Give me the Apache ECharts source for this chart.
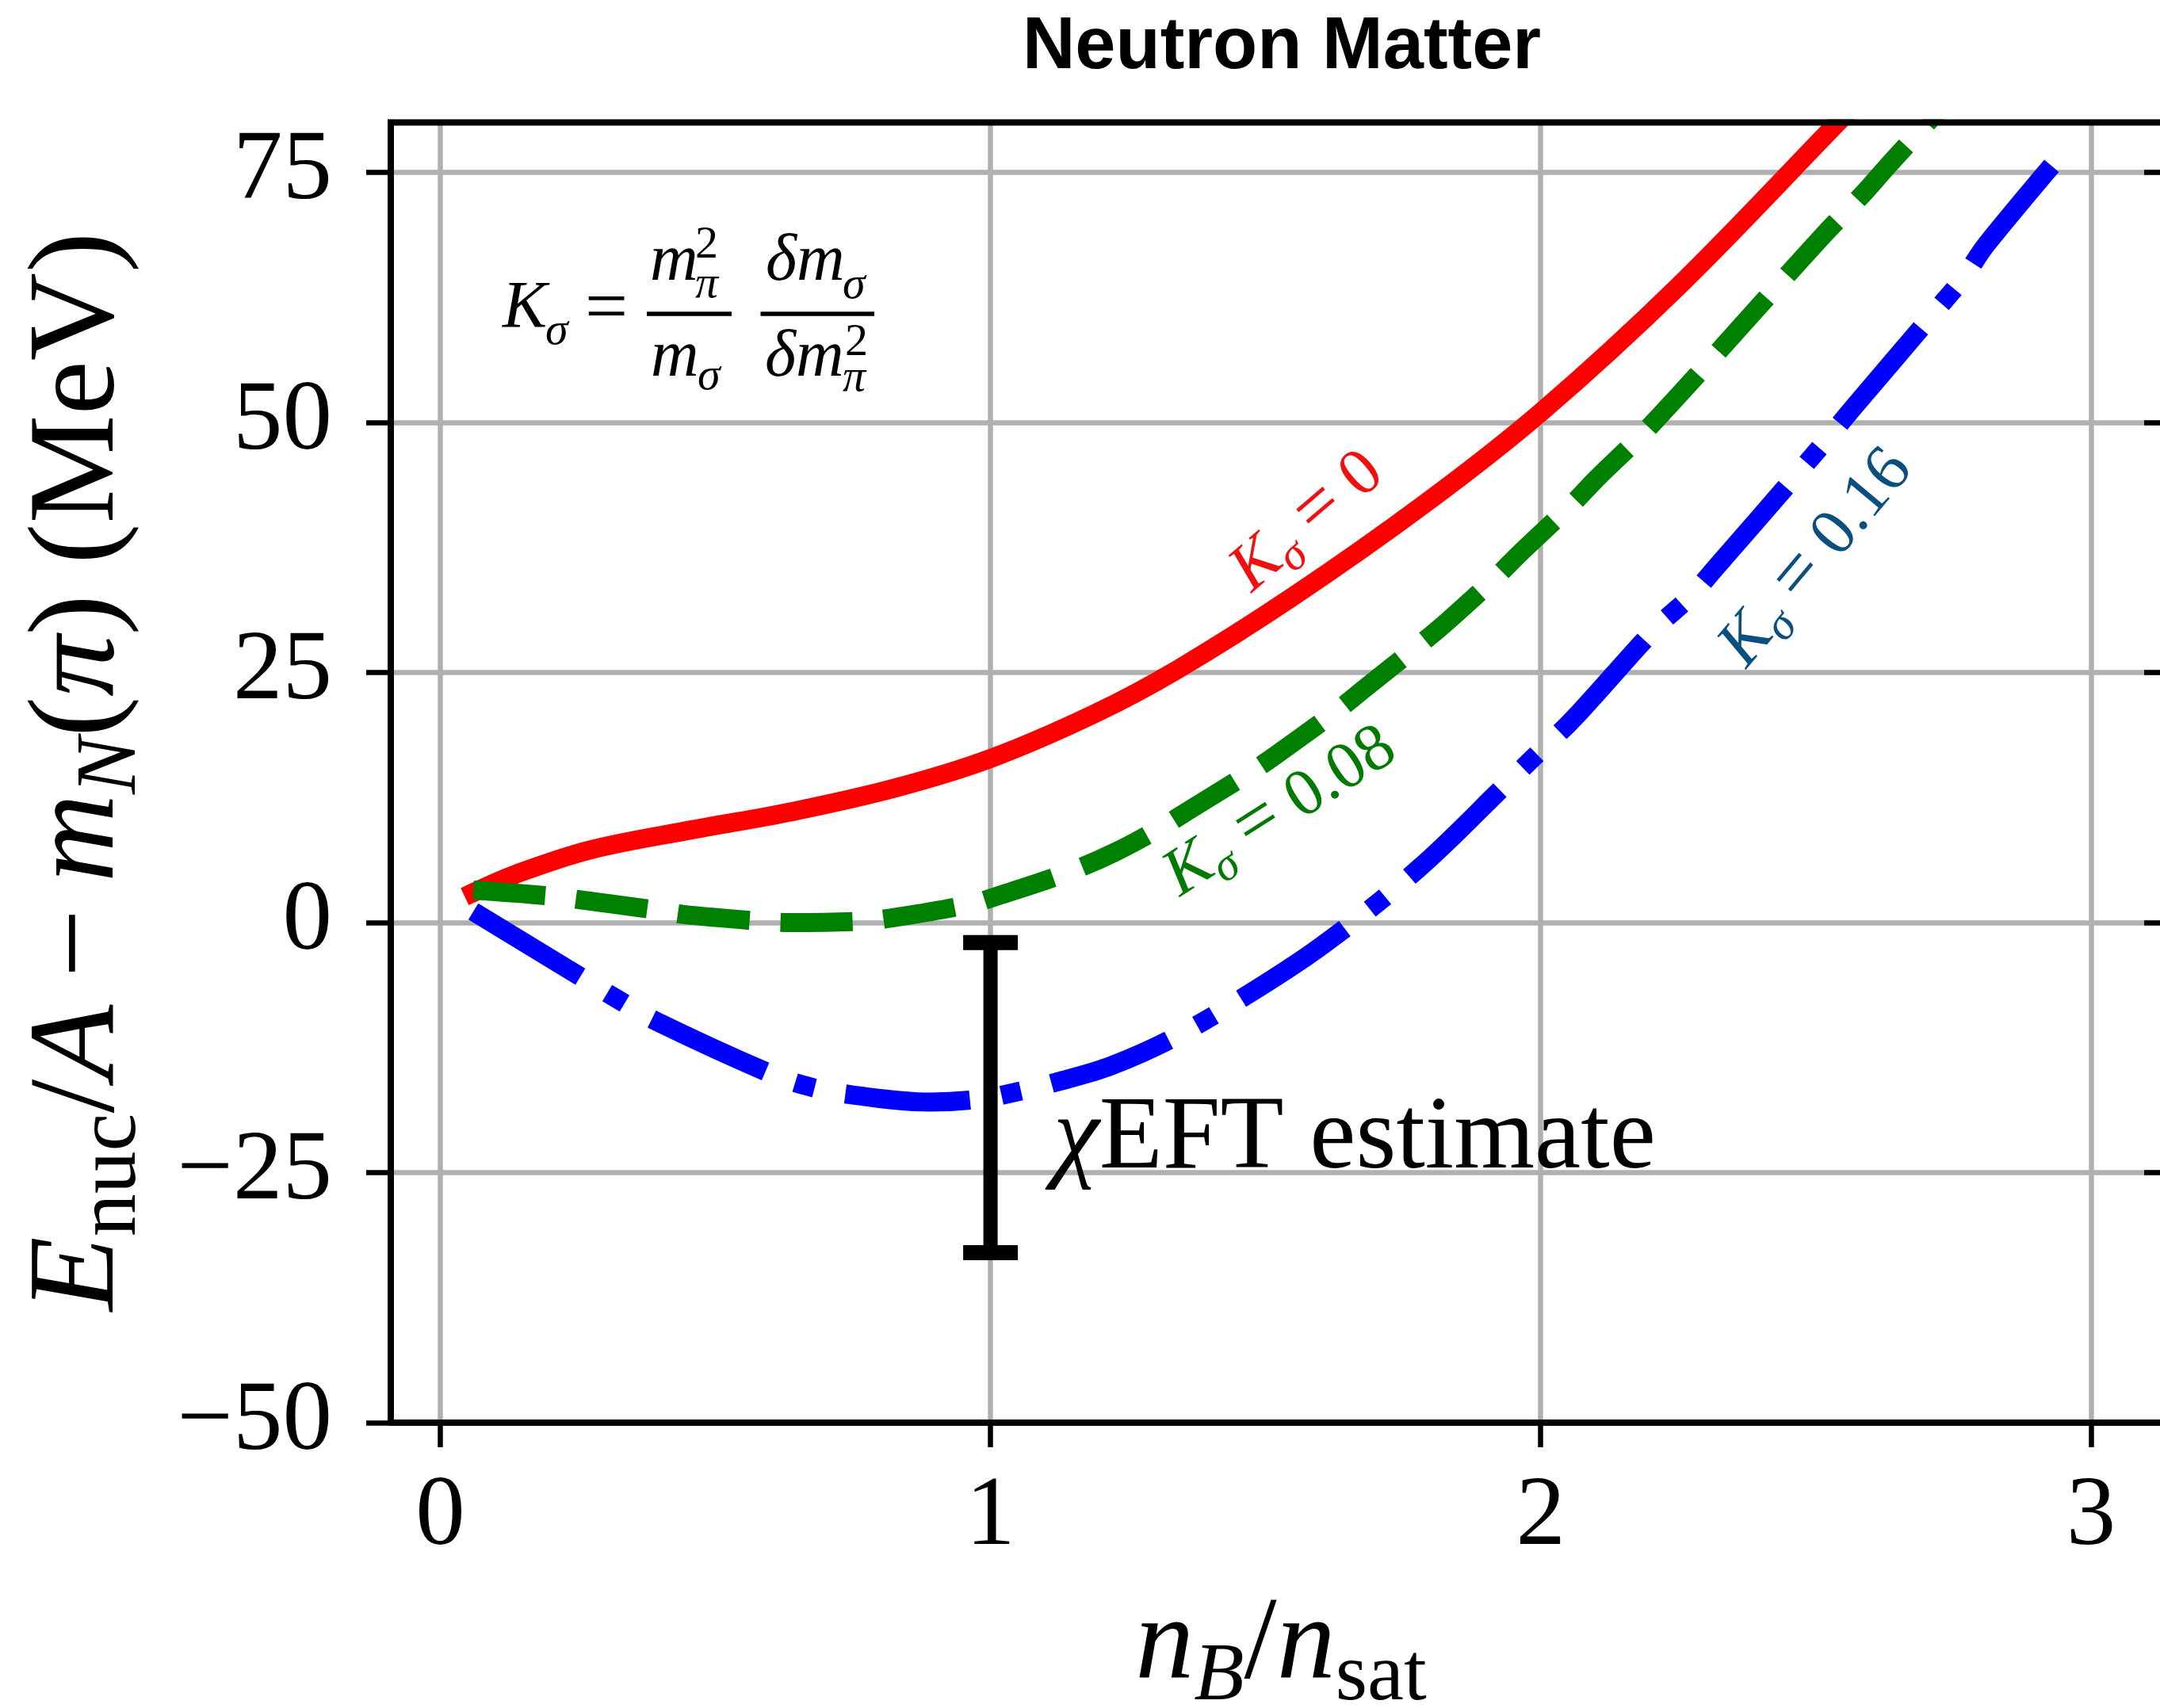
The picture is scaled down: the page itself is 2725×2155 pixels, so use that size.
<!DOCTYPE html>
<html>
<head>
<meta charset="utf-8">
<script src="https://cdn.jsdelivr.net/npm/echarts@6/dist/echarts.min.js"></script>
<style>
  html, body { margin: 0; padding: 0; background: #ffffff; }
  #chart { width: 2725px; height: 2155px; }
</style>
</head>
<body>
<div id="chart"></div>
<script>
// Baryon density n_B/n_sat and energy per nucleon E_nuc/A - m_N(pi) in MeV

// K_sigma = 0
const redX = [0.06, 0.14, 0.275, 0.46, 0.64, 0.83, 1.0, 1.19, 1.34, 1.55, 1.79, 2.0, 2.25, 2.54, 2.62];
const redY = [3.0, 4.9, 7.3, 9.3, 11.1, 13.5, 16.4, 20.9, 25.3, 32.6, 41.9, 51.0, 63.6, 80.0, 84.5];

// K_sigma = 0.08
const greenX = [0.06, 0.19, 0.25, 0.39, 0.44, 0.58, 0.635, 0.77, 0.83, 0.96, 1.01, 1.14, 1.225, 1.313, 1.36,
                1.48, 1.52, 1.63, 1.68, 1.78, 1.83, 1.92, 1.96, 2.06, 2.10, 2.20, 2.51, 2.59, 2.63, 2.70, 2.76];
const greenY = [3.25, 2.7, 2.3, 1.27, 0.82, 0.15, 0.0, 0.15, 0.54, 1.8, 2.6, 5.0, 7.0, 9.6, 11.2,
                15.3, 16.8, 21.2, 23.4, 27.8, 30.1, 34.6, 36.8, 42.0, 44.3, 49.7, 68.5, 73.1, 75.6, 79.8, 83.5];

// K_sigma = 0.16
const blueX = [0.06, 0.26, 0.32, 0.39, 0.60, 0.67, 0.745, 0.89, 0.98, 1.05, 1.13, 1.22, 1.33, 1.45, 1.60,
               1.78, 1.94, 2.00, 2.06, 2.21, 2.27, 2.32, 2.47, 2.52, 2.57, 2.72, 2.77, 2.81, 2.96];
const blueY = [1.1, -5.6, -7.6, -9.8, -15.1, -16.4, -17.2, -17.95, -17.65, -16.9, -15.8, -14.3, -11.6, -7.8, -2.4,
               5.5, 14.0, 17.2, 20.4, 29.5, 32.5, 35.6, 45.1, 48.3, 51.6, 61.3, 64.6, 67.8, 77.7];

// chiral EFT band at saturation density
const eftX = [1.0];
const eftLow = [-33.0];
const eftHigh = [-2.0];

// axis ticks
const xTicks = [0, 1, 2, 3];
const yTicks = [-50, -25, 0, 25, 50, 75];

const SERIF = '"Liberation Serif", "Times New Roman", serif';
const SANS = '"Liberation Sans", Arial, sans-serif';

const zip = (xs, ys) => xs.map((x, i) => [x, ys[i]]);

// text measuring helpers for the hand-set math labels
const mctx = document.createElement('canvas').getContext('2d');
function fontOf(p, size, fam) {
  return (p.it ? 'italic ' : '') + (p.bold ? 'bold ' : '') + size + 'px ' + (fam || SERIF);
}
// distance from the alphabetic baseline up to the canvas "middle" baseline
function midOf(font, size) {
  mctx.font = font;
  mctx.textBaseline = 'alphabetic';
  const m = mctx.measureText('Hg');
  if (m.fontBoundingBoxAscent !== undefined) {
    const a = m.fontBoundingBoxAscent, d = m.fontBoundingBoxDescent;
    return size * (a - d) / (2 * (a + d));
  }
  return 0.305 * size;
}
function textAt(str, x, base, size, opt) {
  opt = opt || {};
  const font = fontOf(opt, size, opt.fam);
  return {
    type: 'text', x: x, y: base - midOf(font, size), z: 60,
    style: { text: str, font: font, fill: opt.color || '#000', align: opt.align || 'left', verticalAlign: 'middle' }
  };
}
function mathRow(parts, size, color) {
  const children = [];
  let x = 0;
  parts.forEach(p => {
    const s = p.size ? size * p.size : ((p.sub || p.sup) ? size * 0.7 : size);
    x += (p.pre || 0) * size;
    const font = fontOf(p, s);
    mctx.font = font;
    const w = mctx.measureText(p.t).width;
    const base = p.sub ? size * 0.17 : (p.sup ? -size * 0.36 : 0);
    children.push({
      type: 'text', x: x, y: base - midOf(font, s), z: 60,
      style: { text: p.t, font: font, fill: color, align: 'left', verticalAlign: 'middle' }
    });
    x += w + (p.post || 0) * size;
  });
  return { children: children, width: x };
}
// row centred on (cx, cy); baseline sits `drop` px below the centre in the row's own frame
function rowAt(parts, size, color, cx, cy, rotDeg, drop, alignLeft) {
  const row = mathRow(parts, size, color);
  row.children.forEach(c => { c.x -= alignLeft ? 0 : row.width / 2; c.y += drop; });
  return { type: 'group', x: cx, y: cy, rotation: rotDeg * Math.PI / 180, z: 60, children: row.children };
}

const yLabelParts = [
  { t: 'E', it: 1 }, { t: 'nuc', sub: 1 }, { t: '/' }, { t: 'A', it: 1 },
  { t: '\u2212', pre: 0.22, post: 0.22 },
  { t: 'm', it: 1 }, { t: 'N', it: 1, sub: 1 }, { t: '(' }, { t: '\u03c0', it: 1 }, { t: ')' },
  { t: ' (MeV)' }
];
const xLabelParts = [
  { t: 'n', it: 1 }, { t: 'B', it: 1, sub: 1 }, { t: '/' }, { t: 'n', it: 1 }, { t: 'sat', sub: 1 }
];
const kLabel = v => [
  { t: 'K', it: 1 }, { t: '\u03c3', it: 1, sub: 1 }, { t: '=', pre: 0.26, post: 0.26, size: 1.12 }, { t: v }
];

const lineStyleBase = { width: 24, join: 'round' };

const chart = echarts.init(document.getElementById('chart'), null, { renderer: 'canvas', width: 2725, height: 2155 });

const tickStyle = { color: '#000', width: 6.5 };
const gridLineStyle = { color: '#b0b0b0', width: 6.5 };

const option = {
  animation: false,
  backgroundColor: '#ffffff',
  grid: { left: 493, top: 154.4, width: 2249, height: 1640.6, containLabel: false, outerBoundsMode: 'none' },
  xAxis: [{
    type: 'value', min: -0.09, max: 3.15, splitNumber: 3, position: 'bottom',
    axisLine: { show: true, onZero: false, lineStyle: { color: '#000', width: 8 } },
    axisTick: { show: true, inside: false, length: 31, customValues: xTicks, lineStyle: tickStyle },
    axisLabel: { show: true, customValues: xTicks, margin: 58, fontFamily: SERIF, fontSize: 125, color: '#000' },
    splitLine: { show: true, lineStyle: gridLineStyle }
  }],
  yAxis: [{
    type: 'value', min: -50, max: 80, interval: 25, position: 'left',
    axisLine: { show: true, onZero: false, lineStyle: { color: '#000', width: 8 } },
    axisTick: { show: true, inside: false, length: 31, customValues: yTicks, lineStyle: tickStyle },
    axisLabel: {
      show: true, customValues: yTicks, margin: 74, fontFamily: SERIF, fontSize: 125, color: '#000',
      formatter: v => (v < 0 ? '\u2212' + Math.abs(v) : String(v))
    },
    splitLine: { show: true, lineStyle: gridLineStyle }
  }, {
    type: 'value', min: -50, max: 80, interval: 25, position: 'right',
    axisLine: { show: false, onZero: false },
    axisTick: { show: true, inside: true, length: 37, customValues: yTicks, lineStyle: tickStyle },
    axisLabel: { show: false },
    splitLine: { show: false }
  }],
  series: [
    {
      name: 'K0', type: 'line', data: zip(redX, redY), showSymbol: false, symbol: 'none',
      smooth: 0.35, z: 3,
      lineStyle: Object.assign({}, lineStyleBase, { color: '#ff0000', cap: 'square' })
    },
    {
      name: 'K008', type: 'line', data: zip(greenX, greenY), showSymbol: false, symbol: 'none',
      smooth: 0.35, z: 4,
      lineStyle: Object.assign({}, lineStyleBase, { color: '#008000', type: [91, 39], cap: 'butt' })
    },
    {
      name: 'K016', type: 'line', data: zip(blueX, blueY), showSymbol: false, symbol: 'none',
      smooth: 0.35, z: 5,
      lineStyle: Object.assign({}, lineStyleBase, { color: '#0000ff', type: [158, 40, 25, 40], cap: 'butt' })
    },
    {
      name: 'chiEFT', type: 'custom', z: 6,
      data: eftX.map((x, i) => [x, eftLow[i], eftHigh[i]]),
      encode: { x: 0, y: [1, 2] },
      renderItem: (params, api) => {
        const x = api.value(0);
        const lo = api.coord([x, api.value(1)]);
        const hi = api.coord([x, api.value(2)]);
        const half = 34.5;
        return {
          type: 'group',
          children: [
            { type: 'line', shape: { x1: lo[0], y1: lo[1], x2: hi[0], y2: hi[1] }, style: { stroke: '#000', lineWidth: 18 } },
            { type: 'line', shape: { x1: lo[0] - half, y1: lo[1], x2: lo[0] + half, y2: lo[1] }, style: { stroke: '#000', lineWidth: 19 } },
            { type: 'line', shape: { x1: hi[0] - half, y1: hi[1], x2: hi[0] + half, y2: hi[1] }, style: { stroke: '#000', lineWidth: 19 } }
          ]
        };
      }
    }
  ],
  graphic: []
};

const g = [];
// white band above the frame and the top spine
g.push({ type: 'rect', z: 50, shape: { x: 0, y: 0, width: 2725, height: 150.4 }, style: { fill: '#ffffff' } });
g.push({ type: 'rect', z: 51, shape: { x: 489, y: 150.4, width: 2300, height: 8 }, style: { fill: '#000000' } });

// title
g.push(textAt('Neutron Matter', 1617, 89, 92, { fam: SANS, bold: 1, align: 'center' }));

// axis titles
g.push(rowAt(yLabelParts, 154, '#000', 149, 973.5, 90, 0));
g.push(rowAt(xLabelParts, 148, '#000', 1616, 2123, 0, 0));

// curve labels
g.push(rowAt(kLabel('0'), 84, '#f01010', 1648, 657, 40.6, 28));
g.push(rowAt(kLabel('0.08'), 84, '#007a00', 1614, 1023, 32.5, 28));
g.push(rowAt(kLabel('0.16'), 84, '#0b4f7f', 2290, 703, 50, 28));

// error bar caption
g.push(rowAt([{ t: '\u03c7', it: 1 }, { t: 'EFT estimate' }], 131, '#000', 1329, 1479, 0, 0, true));

// definition of K_sigma
g.push(textAt('K', 634, 417, 84, { it: 1 }));
g.push(textAt('\u03c3', 688, 436, 58, { it: 1 }));
g.push(textAt('=', 738, 422, 96));
g.push({ type: 'rect', z: 60, shape: { x: 816, y: 393.2, width: 107, height: 5.6 }, style: { fill: '#000' } });
g.push(textAt('m', 820, 357, 84, { it: 1 }));
g.push(textAt('2', 877, 327, 58));
g.push(textAt('\u03c0', 877, 377, 58, { it: 1 }));
g.push(textAt('m', 821, 478, 84, { it: 1 }));
g.push(textAt('\u03c3', 880, 493, 58, { it: 1 }));
g.push({ type: 'rect', z: 60, shape: { x: 959.5, y: 393.2, width: 143.5, height: 5.6 }, style: { fill: '#000' } });
g.push(textAt('\u03b4m', 966, 357, 84, { it: 1 }));
g.push(textAt('\u03c3', 1063, 378, 58, { it: 1 }));
g.push(textAt('\u03b4m', 965, 478, 84, { it: 1 }));
g.push(textAt('2', 1066, 450, 58));
g.push(textAt('\u03c0', 1063, 495, 58, { it: 1 }));

option.graphic = g;
chart.setOption(option);
</script>
</body>
</html>
